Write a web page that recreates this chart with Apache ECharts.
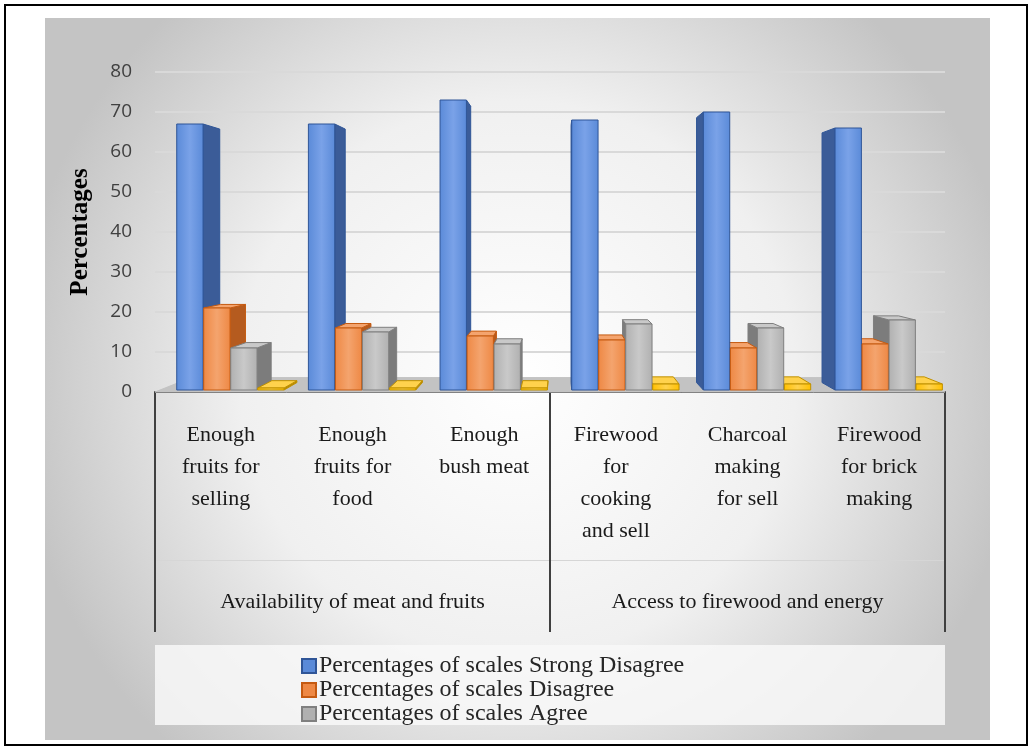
<!DOCTYPE html>
<html>
<head>
<meta charset="utf-8">
<script src="https://cdn.jsdelivr.net/npm/echarts@6/dist/echarts.min.js"></script>
<style>
html, body {margin: 0; padding: 0; background: #fff;}
#chart {width: 1033px; height: 751px;}
</style>
</head>
<body>
<div id="chart"></div>
<script>
// categories (two levels)
var aCategory = ['Enough\nfruits for\nselling', 'Enough\nfruits for\nfood', 'Enough\nbush meat',
    'Firewood\nfor\ncooking\nand sell', 'Charcoal\nmaking\nfor sell', 'Firewood\nfor brick\nmaking'];
var aGroup = ['Availability of meat and fruits', 'Access to firewood and energy'];
var aYTicks = [0, 10, 20, 30, 40, 50, 60, 70, 80];

// values
var aStrongDisagree = [67, 67, 73, 68, 70, 66];
var aDisagree = [21, 16, 14, 13, 11, 12];
var aAgree = [11, 15, 12, 17, 16, 18];
var aStrongAgree = [1, 1, 1, 2, 2, 2];

var sFont = '"Liberation Serif", "Times New Roman", serif';
var K = 0.047; // depth of a bar (perspective)

var aLook = [
    {front: '#5A8AD8', side: '#3B5C98', top: '#7AA2E8', line: '#2F5597'},
    {front: '#EE8844', side: '#B55B1F', top: '#F4A46E', line: '#C55A11'},
    {front: '#B0B0B0', side: '#7C7C7C', top: '#C9C9C9', line: '#7F7F7F'},
    {front: '#FFC000', side: '#B88A00', top: '#FFD24D', line: '#BF9000'}
];

function toBack(p, vx, vy, k) {
    return [p[0] + (vx - p[0]) * k, p[1] + (vy - p[1]) * k];
}

function MakeBarRender(iIdx) {
    return function (params, api) {
        var cs = params.coordSys;
        var vx = cs.x + cs.width * 0.51, vy = cs.y + cs.height * 0.5;
        var iCat = api.value(0), fVal = api.value(1);
        var pTop = api.coord([iCat, fVal]);
        var pBase = api.coord([iCat, 0]);
        var band = api.size([1, 0])[0];
        var x0 = pTop[0] - band / 2 + band * (0.165 + iIdx * 0.205);
        var x1 = x0 + band * 0.2;
        var yT = pTop[1], yB = pBase[1] - 2;
        var look = aLook[iIdx];
        var aChild = [];
        var sx = (x0 + x1) / 2 < vx ? x1 : x0;
        var a = toBack([sx, yT], vx, vy, K), b = toBack([sx, yB], vx, vy, K);
        aChild.push({
            type: 'polygon', z2: 1,
            shape: {points: [[sx, yT], [sx, yB], b, a]},
            style: {fill: look.side, stroke: look.line, lineWidth: 1}
        });
        if (yT > vy) {
            var t0 = toBack([x0, yT], vx, vy, K), t1 = toBack([x1, yT], vx, vy, K);
            aChild.push({
                type: 'polygon', z2: 2,
                shape: {points: [[x0, yT], [x1, yT], t1, t0]},
                style: {fill: look.top, stroke: look.line, lineWidth: 1}
            });
        }
        aChild.push({
            type: 'rect', z2: 3,
            shape: {x: x0, y: yT, width: x1 - x0, height: yB - yT},
            style: {
                fill: {
                    type: 'linear', x: 0, y: 0, x2: 1, y2: 0,
                    colorStops: [{offset: 0, color: look.front}, {offset: 0.5, color: look.top}, {offset: 1, color: look.front}]
                },
                stroke: look.line, lineWidth: 1
            }
        });
        return {type: 'group', children: aChild};
    };
}

function FloorRender(params, api) {
    var cs = params.coordSys;
    var vx = cs.x + cs.width * 0.51, vy = cs.y + cs.height * 0.5;
    var p = api.coord([api.value(0), 0]);
    var band = api.size([1, 0])[0];
    var yF = p[1];
    var xL = p[0] - band / 2, xR = p[0] + band / 2;
    var a = toBack([xL, yF], vx, vy, 0.09), b = toBack([xR, yF], vx, vy, 0.09);
    return {
        type: 'polygon', z2: 0,
        shape: {points: [[xL, yF], [xR, yF], b, a]},
        style: {fill: '#C3C3C3', stroke: '#C3C3C3', lineWidth: 1}
    };
}

function GetSeries(sName, aData, iIdx) {
    var aPairs = [];
    for (var i = 0; i < aData.length; i++) {
        aPairs.push([i, aData[i]]);
    }
    return {
        name: sName,
        type: 'custom',
        renderItem: MakeBarRender(iIdx),
        itemStyle: {color: aLook[iIdx].front, borderColor: aLook[iIdx].line, borderWidth: 1},
        encode: {x: 0, y: 1},
        data: aPairs,
        z: 3
    };
}

var aSeriesNames = ['Percentages of scales Strong Disagree', 'Percentages of scales Disagree',
    'Percentages of scales Agree', 'Percentages of scales Strongly Agree'];

var aFloor = [];
for (var i = 0; i < aCategory.length; i++) {
    aFloor.push([i, 0]);
}

var jOption = {
    animation: false,
    graphic: [
        {type: 'rect', z: -10, shape: {x: 5, y: 5, width: 1022, height: 740},
            style: {fill: '#fff', stroke: '#000', lineWidth: 2}},
        {type: 'rect', z: -9, shape: {x: 45, y: 18, width: 945, height: 722},
            style: {
                fill: {
                    type: 'radial', x: 0.5, y: 0.5, r: 0.7,
                    colorStops: [{offset: 0, color: '#FFFFFF'}, {offset: 0.55, color: '#F0F0F0'}, {offset: 1, color: '#C4C4C4'}]
                }
            }},
        {type: 'rect', z: -8, shape: {x: 155, y: 645, width: 790, height: 80},
            style: {fill: 'rgba(248,248,248,0.85)'}}
    ],
    legend: {
        data: aSeriesNames.slice(0, 3),
        orient: 'vertical',
        left: 296,
        top: 649,
        itemGap: 0,
        itemWidth: 14,
        itemHeight: 14,
        icon: 'rect',
        textStyle: {fontFamily: sFont, fontSize: 24, lineHeight: 22, color: '#262626', padding: [0, 0, 0, -2]}
    },
    grid: {left: 155, right: 88, top: 72, bottom: 359, containLabel: false},
    xAxis: [
        {
            type: 'category',
            data: aCategory,
            axisLine: {show: true, lineStyle: {color: '#404040', width: 2}},
            axisTick: {show: false},
            axisLabel: {
                interval: 0, margin: 27, fontFamily: sFont, fontSize: 22, lineHeight: 32,
                color: '#1a1a1a', verticalAlign: 'top'
            }
        },
        {
            type: 'category',
            data: aGroup,
            position: 'bottom',
            axisLine: {show: false},
            axisTick: {show: true, length: 240, lineStyle: {color: '#404040', width: 2}},
            axisLabel: {interval: 0, margin: 199, fontFamily: sFont, fontSize: 22, color: '#1a1a1a'}
        },
        {
            type: 'category',
            data: aGroup,
            position: 'bottom',
            offset: 168,
            axisLine: {show: true, lineStyle: {color: '#D6D6D6', width: 1}},
            axisTick: {show: false},
            axisLabel: {show: false}
        }
    ],
    yAxis: {
        type: 'value',
        min: aYTicks[0],
        max: aYTicks[aYTicks.length - 1],
        interval: 10,
        name: 'Percentages',
        nameLocation: 'middle',
        nameGap: 62,
        nameTextStyle: {fontFamily: sFont, fontSize: 25, fontWeight: 'bold', color: '#000'},
        axisLine: {show: false},
        axisTick: {show: false},
        axisLabel: {margin: 23, fontFamily: '"Open Sans", sans-serif', fontSize: 19, color: '#404040'},
        splitLine: {lineStyle: {color: '#D9D9D9', width: 2}}
    },
    series: [
        {
            name: 'floor', type: 'custom', renderItem: FloorRender,
            encode: {x: 0, y: 1}, data: aFloor, z: 2, silent: true
        },
        GetSeries(aSeriesNames[0], aStrongDisagree, 0),
        GetSeries(aSeriesNames[1], aDisagree, 1),
        GetSeries(aSeriesNames[2], aAgree, 2),
        GetSeries(aSeriesNames[3], aStrongAgree, 3)
    ]
};

var oChart = echarts.init(document.getElementById('chart'));
oChart.setOption(jOption);
</script>
</body>
</html>
